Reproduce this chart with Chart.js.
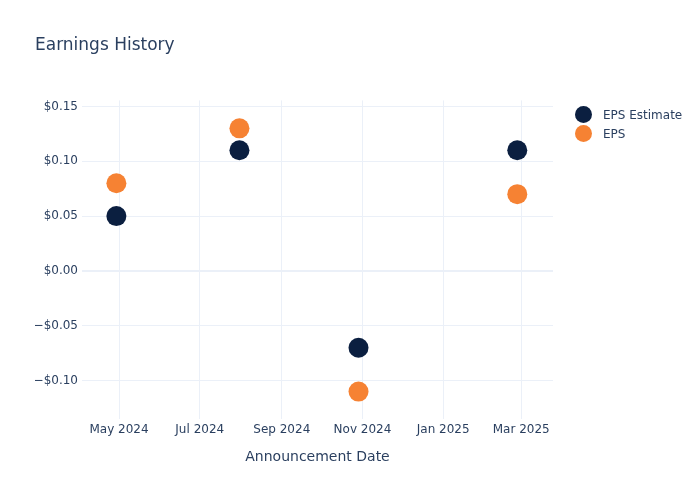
<!DOCTYPE html>
<html>
<head>
<meta charset="utf-8">
<script src="https://cdn.jsdelivr.net/npm/chart.js@4.4.1/dist/chart.umd.min.js"></script>
<style>
  body { margin: 0; background: #fff; font-family: "DejaVu Sans", sans-serif; }
  #wrap { position: relative; width: 700px; height: 500px; }
  #legend { position: absolute; left: 575px; top: 105px; font-size: 12px; color: #2a3f5f; }
  .leg-item { display: flex; align-items: center; height: 19px; }
  .leg-dot { width: 17px; height: 17px; border-radius: 50%; margin-right: 11px; flex-shrink: 0; }
</style>
</head>
<body>
<div id="wrap">
  <canvas id="chart" width="700" height="500"></canvas>
  <div id="legend"></div>
</div>
<script>
// announcement dates and values
const dates = ['2024-04-29', '2024-07-31', '2024-10-29', '2025-02-26'];
const epsEstimate = [0.05, 0.11, -0.07, 0.11];
const eps = [0.08, 0.13, -0.11, 0.07];

// axis ticks
const xTickDates = ['2024-05-01', '2024-07-01', '2024-09-01', '2024-11-01', '2025-01-01', '2025-03-01'];
const xTickLabels = ['May 2024', 'Jul 2024', 'Sep 2024', 'Nov 2024', 'Jan 2025', 'Mar 2025'];
const yTicks = [-0.10, -0.05, 0, 0.05, 0.10, 0.15];

const NAVY = '#0b1f40';
const ORANGE = '#f68233';
const TEXT = '#2a3f5f';
const GRID = '#ebf0f8';

const toPoints = vals => vals.map((v, i) => ({ x: Date.parse(dates[i]), y: v }));

const chart = new Chart(document.getElementById('chart'), {
  type: 'scatter',
  data: {
    datasets: [
      { label: 'EPS Estimate', data: toPoints(epsEstimate), backgroundColor: NAVY, borderWidth: 0, pointBorderWidth: 0, pointRadius: 10, pointHoverRadius: 10 },
      { label: 'EPS', data: toPoints(eps), backgroundColor: ORANGE, borderWidth: 0, pointBorderWidth: 0, pointRadius: 10, pointHoverRadius: 10 }
    ]
  },
  options: {
    responsive: false,
    animation: false,
    layout: { padding: { left: 35, right: 147, top: 0, bottom: 0 } },
    plugins: {
      legend: { display: false },
      tooltip: { enabled: false },
      title: {
        display: true,
        text: 'Earnings History',
        align: 'start',
        color: TEXT,
        font: { family: 'DejaVu Sans', size: 17, weight: 'normal' },
        padding: { top: 35, bottom: 45 }
      }
    },
    scales: {
      x: {
        type: 'linear',
        min: Date.parse('2024-04-03'),
        max: Date.parse('2025-03-25'),
        afterBuildTicks: s => { s.ticks = xTickDates.map(d => ({ value: Date.parse(d) })); },
        afterFit: s => { s.height = 81; },
        ticks: {
          callback: (v, i) => xTickLabels[i],
          color: TEXT,
          font: { family: 'DejaVu Sans', size: 12 },
          padding: 4,
          maxRotation: 0,
          autoSkip: false
        },
        grid: { color: GRID, drawTicks: false },
        border: { display: false },
        title: {
          display: true,
          text: 'Announcement Date',
          color: TEXT,
          font: { family: 'DejaVu Sans', size: 14 },
          padding: { top: 0, bottom: 34 }
        }
      },
      y: {
        min: -0.135,
        max: 0.1555,
        afterBuildTicks: s => { s.ticks = yTicks.map(v => ({ value: v })); },
        afterFit: s => { s.width = 47; },
        ticks: {
          callback: v => (v < 0 ? '\u2212$' : '$') + Math.abs(v).toFixed(2),
          color: TEXT,
          font: { family: 'DejaVu Sans', size: 12 },
          padding: 4
        },
        grid: {
          color: GRID,
          drawTicks: false,
          lineWidth: c => (c.tick && c.tick.value === 0 ? 2 : 1)
        },
        border: { display: false }
      }
    }
  }
});

// legend as html, built from the chart datasets
document.getElementById('legend').innerHTML = chart.data.datasets.map(ds => `
  <div class="leg-item">
    <span class="leg-dot" style="background:${ds.backgroundColor};"></span>
    <span>${ds.label}</span>
  </div>`).join('');
</script>
</body>
</html>
